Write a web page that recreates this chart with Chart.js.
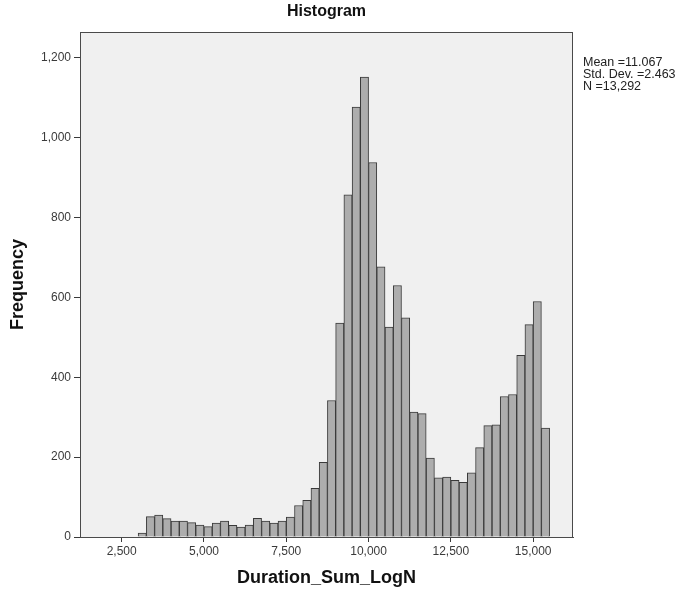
<!DOCTYPE html>
<html>
<head>
<meta charset="utf-8">
<script src="https://cdn.jsdelivr.net/npm/chart.js@4/dist/chart.umd.min.js"></script>
<style>
  html, body { margin: 0; padding: 0; background: #ffffff; }
  #wrap { width: 685px; height: 595px; }
</style>
</head>
<body>
<div id="wrap"><canvas id="c" width="685" height="595"></canvas></div>
<script>
// Histogram bins (bin centres, width 0.25) and frequencies
const binCenters = [3.125, 3.375, 3.625, 3.875, 4.125, 4.375, 4.625, 4.875, 5.125, 5.375,
                    5.625, 5.875, 6.125, 6.375, 6.625, 6.875, 7.125, 7.375, 7.625, 7.875,
                    8.125, 8.375, 8.625, 8.875, 9.125, 9.375, 9.625, 9.875, 10.125, 10.375,
                    10.625, 10.875, 11.125, 11.375, 11.625, 11.875, 12.125, 12.375, 12.625, 12.875,
                    13.125, 13.375, 13.625, 13.875, 14.125, 14.375, 14.625, 14.875, 15.125, 15.375];
const frequencies = [10, 51, 55, 46, 40, 40, 36, 30, 26, 35,
                     40, 29, 25, 30, 47, 40, 35, 40, 50, 79,
                     92, 122, 187, 342, 536, 857, 1077, 1152, 938, 677,
                     526, 630, 549, 313, 309, 198, 148, 150, 142, 137,
                     161, 224, 279, 281, 352, 357, 455, 532, 590, 273];
const xTickValues = [2.5, 5, 7.5, 10, 12.5, 15];
const xTickLabels = ["2,500", "5,000", "7,500", "10,000", "12,500", "15,000"];
const yTickValues = [0, 200, 400, 600, 800, 1000, 1200];
const yTickLabels = ["0", "200", "400", "600", "800", "1,000", "1,200"];
const statsLines = ["Mean =11.067", "Std. Dev. =2.463", "N =13,292"];
const titleText = "Histogram";
const xTitle = "Duration_Sum_LogN";
const yTitle = "Frequency";

const FONT = "'Liberation Sans', Arial, sans-serif";

const framePlugin = {
  id: 'frame',
  beforeDatasetsDraw(chart) {
    const {ctx, chartArea: a} = chart;
    ctx.save();
    ctx.fillStyle = '#f0f0f0';
    ctx.fillRect(a.left, a.top, a.right - a.left, a.bottom - a.top);
    ctx.restore();
  },
  afterDatasetsDraw(chart) {
    const {ctx, chartArea: a} = chart;
    ctx.save();
    ctx.strokeStyle = '#4a4a4a';
    ctx.lineWidth = 1;
    ctx.strokeRect(a.left + 0.5, a.top + 0.5, a.right - a.left - 1, a.bottom - a.top);
    ctx.restore();
  },
  afterDraw(chart) {
    const {ctx, chartArea: a} = chart;
    ctx.save();
    ctx.fillStyle = '#222222';
    ctx.font = "12.5px " + FONT;
    ctx.textAlign = 'left';
    ctx.textBaseline = 'middle';
    statsLines.forEach((t, i) => ctx.fillText(t, a.right + 10, a.top + 31 + i * 12));
    ctx.restore();
  }
};

new Chart(document.getElementById('c'), {
  type: 'bar',
  data: {
    datasets: [{
      data: binCenters.map((c, i) => ({x: c, y: frequencies[i]})),
      backgroundColor: '#adadad',
      borderColor: '#3a3a3a',
      borderWidth: 1,
      barPercentage: 1,
      categoryPercentage: 1
    }]
  },
  plugins: [framePlugin],
  options: {
    responsive: false,
    animation: false,
    layout: { padding: { left: 0, top: 0, right: 112, bottom: 0 } },
    plugins: {
      legend: { display: false },
      tooltip: { enabled: false },
      title: {
        display: true,
        text: titleText,
        fullSize: false,
        color: '#111111',
        font: { family: FONT, size: 16, weight: 'bold' },
        padding: { top: 2, bottom: 10.8 }
      }
    },
    scales: {
      x: {
        type: 'linear',
        offset: false,
        min: 1.234,
        max: 16.21,
        afterBuildTicks: (s) => { s.ticks = xTickValues.map(v => ({value: v})); },
        afterFit: (s) => { s.height = 58; },
        ticks: {
          autoSkip: false,
          maxRotation: 0,
          padding: 2,
          color: '#3a3a3a',
          font: { family: FONT, size: 12 },
          callback: (v, i) => xTickLabels[i]
        },
        grid: { display: true, drawOnChartArea: false, drawTicks: true, tickLength: 5, color: '#3a3a3a', offset: false },
        border: { display: true, color: '#4a4a4a' },
        title: {
          display: true, text: xTitle, color: '#111111',
          font: { family: FONT, size: 18, weight: 'bold' },
          padding: { top: 0, bottom: 6 }
        }
      },
      y: {
        min: 0,
        max: 1265,
        afterBuildTicks: (s) => { s.ticks = yTickValues.map(v => ({value: v})); },
        afterFit: (s) => { s.width = 80; },
        ticks: {
          padding: 3,
          color: '#3a3a3a',
          font: { family: FONT, size: 12 },
          callback: (v, i) => yTickLabels[i]
        },
        grid: { display: true, drawOnChartArea: false, drawTicks: true, tickLength: 6, color: '#3a3a3a' },
        border: { display: true, color: '#4a4a4a' },
        title: {
          display: true, text: yTitle, color: '#111111',
          font: { family: FONT, size: 18, weight: 'bold' },
          padding: { top: 7, bottom: 0 }
        }
      }
    }
  }
});
</script>
</body>
</html>
